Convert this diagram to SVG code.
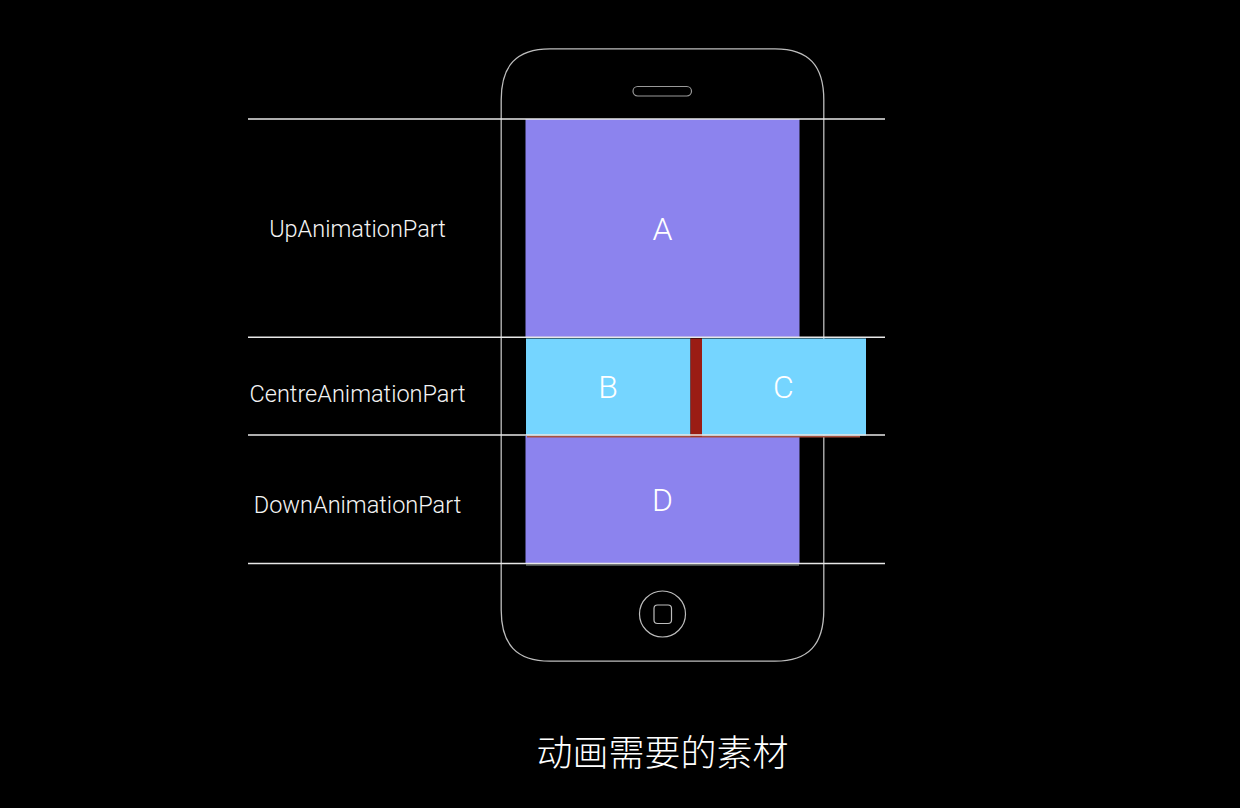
<svg xmlns="http://www.w3.org/2000/svg" width="1240" height="808" viewBox="0 0 1240 808">
<style>
.o{fill:none;stroke:#bdbdbd}
.r{stroke:#e8e8e8;stroke-width:1.4}
.l{font-family:Roboto,"Liberation Sans",sans-serif;font-weight:300;fill:#f4f4f4;font-size:23.5px;text-anchor:middle}
.c{font-family:Roboto,"Liberation Sans",sans-serif;font-weight:300;fill:#fff;font-size:32px;text-anchor:middle}
.p{fill:#8c83ee}
.b{fill:#75d5ff}
</style>
<rect width="1240" height="808" fill="#000"/>
<g id="phone">
<path class="o" stroke-width="1.300" d="M501.200 100C501.200 66 516 48.800 550 48.800H775C809 48.800 823.800 66 823.800 100V610C823.800 644 809 661.200 775 661.200H550C516 661.200 501.200 644 501.200 610Z"/>
<rect x="633" y="86.500" width="58.500" height="9.500" rx="4.700" fill="none" stroke="#999" stroke-width="1.200"/>
<circle class="o" cx="662.500" cy="614" r="23" stroke-width="1.200"/>
<rect class="o" x="654" y="605" width="17.500" height="18.500" rx="3.500" stroke-width="1.200"/>
</g>
<g id="node-a"><rect class="p" x="525.500" y="119" width="274" height="219"/><text class="c" x="662.500" y="240">A</text></g>
<g id="node-d"><rect class="p" x="525.500" y="436" width="274" height="128"/><rect x="526" y="564" width="273" height="2" fill="#4c5250"/><text class="c" x="662.500" y="511">D</text></g>
<g id="divider"><rect x="527" y="435.500" width="333" height="2" fill="#a8503f"/></g>
<g id="node-b"><rect class="b" x="526" y="338.500" width="164.500" height="97"/><text class="c" x="608" y="398">B</text></g>
<g id="node-c"><rect class="b" x="702" y="338.500" width="164" height="97"/><text class="c" x="783.500" y="398">C</text></g>
<g id="bar"><rect x="690.500" y="338.500" width="11.500" height="98" fill="#9a1c14"/></g>
<g id="connectors">
<line class="r" x1="248" y1="119" x2="885" y2="119"/>
<line class="r" x1="248" y1="337.300" x2="885" y2="337.300"/>
<line class="r" x1="248" y1="435" x2="885" y2="435"/>
<line class="r" x1="248" y1="563.500" x2="885" y2="563.500"/>
</g>
<g id="labels">
<text class="l" x="357.500" y="236.500">UpAnimationPart</text>
<text class="l" x="357.500" y="401.500">CentreAnimationPart</text>
<text class="l" x="357.500" y="513">DownAnimationPart</text>
<text x="662.500" y="766" font-family="'Noto Sans CJK SC','Noto Sans',sans-serif" font-weight="300" font-size="36px" fill="#fff" text-anchor="middle">动画需要的素材</text>
</g>
</svg>
